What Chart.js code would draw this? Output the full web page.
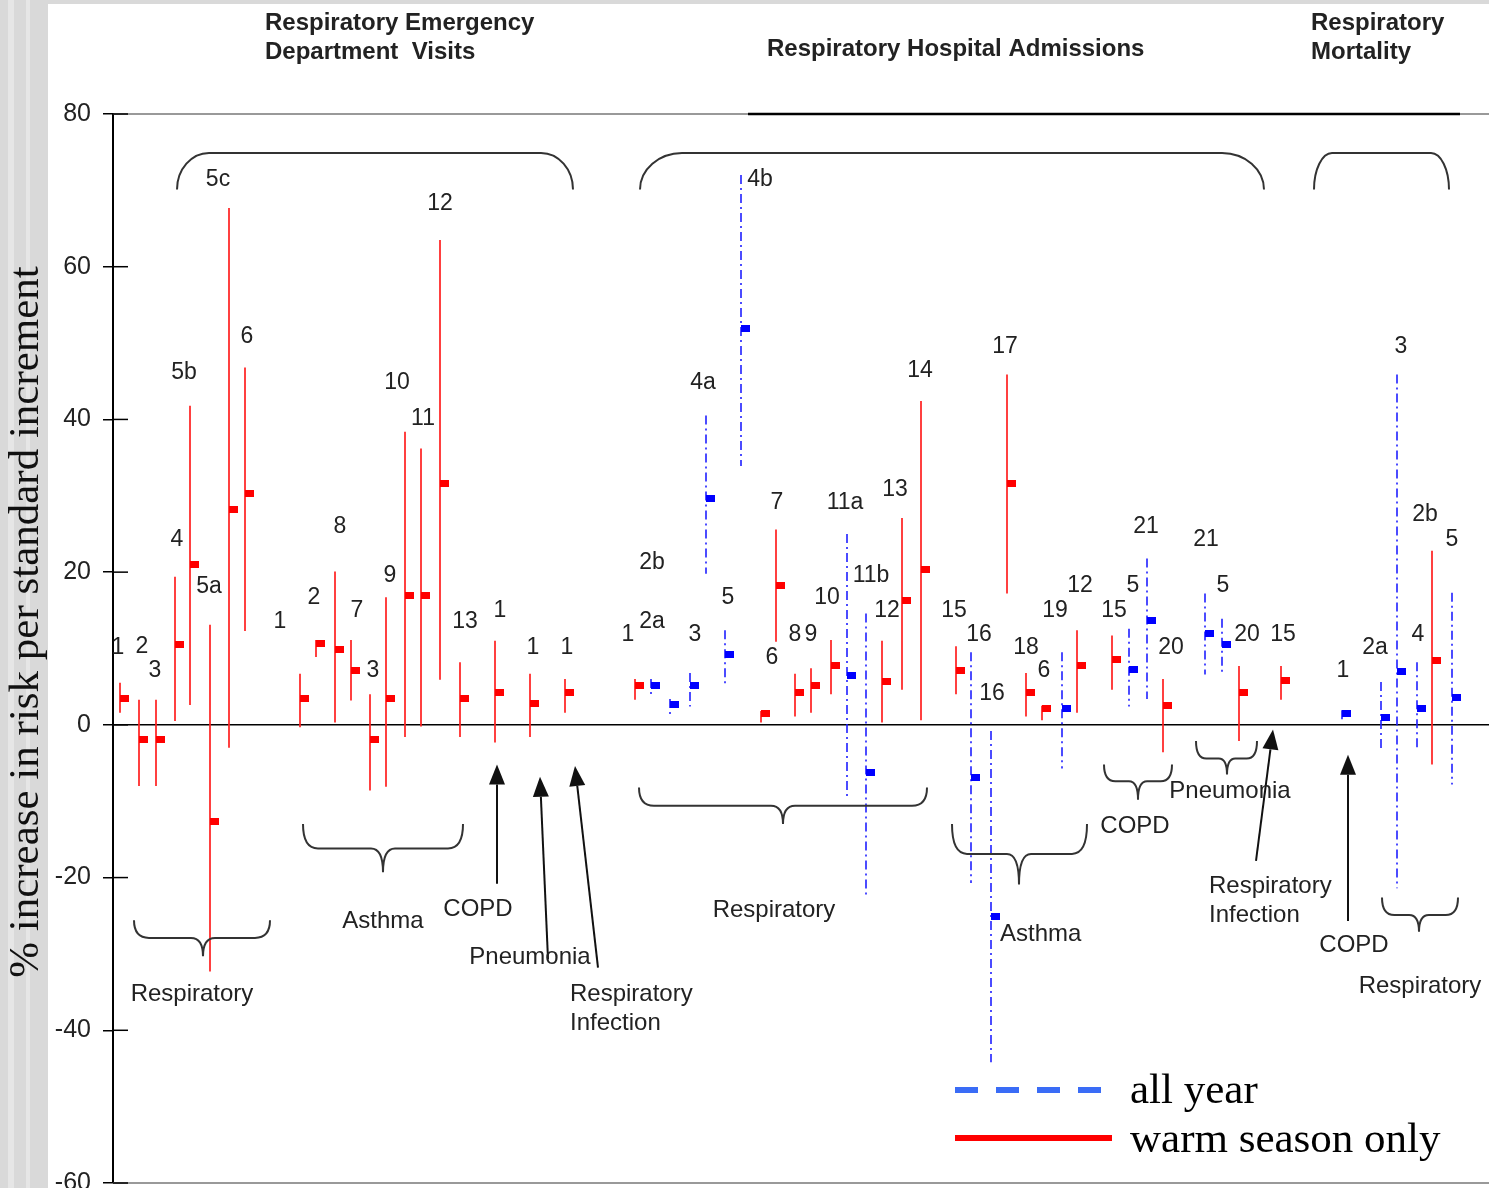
<!DOCTYPE html>
<html>
<head>
<meta charset="utf-8">
<script src="https://cdn.jsdelivr.net/npm/chart.js@4.4.1/dist/chart.umd.min.js"></script>
<style>
html,body{margin:0;padding:0;background:#fff;}
canvas{display:block;}
</style>
</head>
<body>
<canvas id="c" width="1489" height="1188" style="width:1489px;height:1188px"></canvas>
<script>
// ---------------- DATA ----------------
// estimate labels (study numbers)
const estimateIds = [
  '1','2','3','4','5b','5a','5c','6',
  '1','2','8','7','3','9','10','11','12','13',
  '1','1','1',
  '1','2a','2b','3','4a','5','4b','6','7','8','9','10','11a','11b','12','13','14',
  '15','16','16','17','18','6','19','12',
  '15','5','21','20',
  '21','5','20',
  '15',
  '1',
  '2a','3','4','2b','5'
];
// position of each estimate along the (unlabelled) horizontal axis
const positions = [
  0.7,2.6,4.3,6.2,7.7,9.7,11.6,13.2,
  18.7,20.3,22.2,23.8,25.7,27.3,29.2,30.8,32.7,34.7,
  38.2,41.7,45.2,
  52.2,53.8,55.7,57.7,59.3,61.2,62.8,64.8,66.3,68.2,69.8,71.8,73.4,75.3,76.9,78.9,80.8,
  84.3,85.8,87.8,89.4,91.3,92.9,94.9,96.4,
  99.9,101.6,103.4,105.0,
  109.2,110.9,112.6,
  116.8,
  122.9,
  126.8,128.4,130.4,131.9,133.9
];
// % increase in risk: central estimate, lower and upper confidence limits
const centers = [
  3.5,-1.9,-1.9,10.5,21.0,-12.6,28.2,30.3,
  3.5,10.6,9.9,7.1,-1.9,3.5,16.9,16.9,31.6,3.5,
  4.2,2.8,4.2,
  5.1,5.1,2.7,5.1,29.6,9.2,51.9,1.5,18.2,4.2,5.1,7.8,6.4,-6.2,5.7,16.3,20.3,
  7.1,-6.9,-25.1,31.6,4.3,2.1,2.1,7.8,
  8.5,7.3,13.7,2.6,
  12.0,10.5,4.2,
  5.8,
  1.5,
  0.9,7.0,2.1,8.4,3.6
];
const lowers = [
  1.6,-8.0,-8.0,0.5,2.6,-32.3,-3.0,12.3,
  -0.3,8.9,0.3,3.2,-8.6,-8.1,-1.6,-0.2,5.9,-1.6,
  -2.3,-1.6,1.6,
  3.3,3.9,1.3,2.4,19.8,5.4,33.9,0.3,10.9,1.1,1.6,4.0,-9.8,-22.3,0.3,4.6,0.6,
  4.0,-20.7,-44.2,17.2,1.1,0.6,-5.7,1.6,
  4.6,2.4,3.4,-3.6,
  6.6,6.6,-2.1,
  3.3,
  0.6,
  -3.3,-21.4,-3.2,-5.2,-7.8
];
const uppers = [
  5.5,3.3,3.3,19.4,41.8,13.1,67.7,46.8,
  6.7,11.1,20.1,11.1,4.0,16.7,38.4,36.2,63.5,8.2,
  11.0,6.7,6.0,
  6.0,6.0,3.4,6.8,40.5,12.4,72.0,1.8,25.6,6.7,7.4,11.1,25.0,14.6,11.0,27.1,42.4,
  10.3,9.5,-0.8,45.9,6.8,2.5,9.5,12.4,
  11.7,12.6,21.8,6.0,
  17.2,13.9,7.7,
  7.7,
  1.9,
  5.6,45.9,8.2,22.8,17.3
];
// 'warm' = warm season only, 'all' = all year
const seasons = [
  'warm','warm','warm','warm','warm','warm','warm','warm',
  'warm','warm','warm','warm','warm','warm','warm','warm','warm','warm',
  'warm','warm','warm',
  'warm','all','all','all','all','all','all','warm','warm','warm','warm','warm','all','all','warm','warm','warm',
  'warm','all','all','warm','warm','warm','all','warm',
  'warm','all','all','warm',
  'all','all','warm',
  'warm',
  'all',
  'all','all','all','warm','all'
];
// where each study number is written (axis units / % units)
const labelX = [
  0.5,2.9,4.2,6.4,7.1,9.6,10.5,13.4,
  16.7,20.1,22.7,24.4,26.0,27.7,28.4,31.0,32.7,35.2,
  38.7,42.0,45.4,
  51.5,53.9,53.9,58.2,59.0,61.5,64.7,65.9,66.4,68.2,69.8,71.4,73.2,75.8,77.4,78.2,80.7,
  84.1,86.6,87.9,89.2,91.3,93.1,94.2,96.7,
  100.1,102.0,103.3,105.8,
  109.3,111.0,113.4,
  117.0,
  123.0,
  126.2,128.8,130.5,131.2,133.9
];
const labelY = [
  10.1,10.3,7.1,24.3,46.1,18.1,71.4,50.9,
  13.5,16.7,26.0,15.0,7.1,19.5,44.8,40.1,68.3,13.5,
  15.0,10.1,10.1,
  11.8,13.5,21.2,11.8,44.8,16.7,71.4,8.8,29.1,11.8,11.8,16.7,29.1,19.5,15.0,30.8,46.4,
  15.0,11.8,4.1,49.5,10.1,7.1,15.0,18.2,
  15.0,18.2,26.0,10.1,
  24.3,18.2,11.8,
  11.8,
  7.1,
  10.1,49.5,11.8,27.5,24.3
];
const yTicks = [-60,-40,-20,0,20,40,60,80];
const yTitle = '% increase in risk per standard increment';
const seriesNames = { all: 'all year', warm: 'warm season only' };

// ---------------- ANNOTATIONS ----------------
const headers = [
  { lines: ['Respiratory Emergency', 'Department  Visits'], x: 15.2 },
  { lines: ['Respiratory Hospital Admissions'], x: 65.4, single: true },
  { lines: ['Respiratory', 'Mortality'], x: 119.8 }
];
const topBraces = [ // xLeft, xRight, yTop, yEnd, corner
  [6.4, 46.0, 74.9, 70.1, 32],
  [52.7, 115.1, 74.9, 70.1, 42],
  [120.1, 133.6, 74.9, 70.1, 18]
];
const bottomBraces = [ // xLeft, xTip, xRight, yTop, yBar, yTip
  [2.1, 9.0, 15.7, -25.6, -27.9, -30.3],
  [19.0, 27.0, 35.0, -13.0, -16.2, -19.3],
  [52.6, 67.0, 81.4, -8.2, -10.6, -13.0],
  [83.9, 90.6, 97.4, -13.0, -16.9, -20.9],
  [99.1, 102.5, 105.9, -5.2, -7.4, -9.8],
  [108.3, 111.4, 114.4, -2.1, -4.4, -6.5],
  [126.9, 130.6, 134.5, -22.6, -24.9, -27.1]
];
const arrows = [ // from x,y  to x,y
  [38.4, -20.8, 38.4, -5.2],
  [43.5, -30.7, 42.7, -6.8],
  [48.5, -31.8, 46.2, -5.4],
  [114.3, -17.8, 116.0, -0.6],
  [123.5, -25.7, 123.5, -3.9]
];
const groupLabels = [ // text, x, y, align
  ['Respiratory', 7.9, -35.3, 'center'],
  ['Asthma', 27.0, -25.7, 'center'],
  ['COPD', 36.5, -24.1, 'center'],
  ['Pneumonia', 41.7, -30.4, 'center'],
  ['Respiratory', 45.7, -35.3, 'left'],
  ['Infection', 45.7, -39.1, 'left'],
  ['Respiratory', 66.1, -24.3, 'center'],
  ['Asthma', 88.7, -27.5, 'left'],
  ['COPD', 102.2, -13.3, 'center'],
  ['Pneumonia', 111.7, -8.7, 'center'],
  ['Respiratory', 109.6, -21.1, 'left'],
  ['Infection', 109.6, -24.9, 'left'],
  ['COPD', 124.1, -28.9, 'center'],
  ['Respiratory', 130.7, -34.3, 'center']
];

// ---------------- CHART ----------------
const SANS = "'Liberation Sans', Arial, sans-serif";
const SERIF = "'Liberation Serif', 'Times New Roman', serif";
const RED = '#ff0000', BLUE = '#0000ff';

function boxStyle(color) {
  const c = document.createElement('canvas');
  c.width = 20; c.height = 7;
  const g = c.getContext('2d');
  g.fillStyle = color;
  g.fillRect(10, 0, 9, 7);
  return c;
}

const warmPts = [], allPts = [];
estimateIds.forEach((id, i) => {
  (seasons[i] === 'warm' ? warmPts : allPts).push({ x: positions[i], y: centers[i] });
});

const artPlugin = {
  id: 'art',
  beforeDraw(chart) {
    const ctx = chart.ctx, w = chart.width, h = chart.height;
    ctx.save();
    ctx.fillStyle = '#ffffff';
    ctx.fillRect(0, 0, w, h);
    ctx.fillStyle = '#d9d9d9';
    ctx.fillRect(0, 0, 48, h);
    ctx.fillRect(0, 0, w, 4);
    ctx.fillStyle = '#e6e6e6';
    ctx.fillRect(8, 0, 6, h);
    ctx.fillRect(26, 0, 4, h);
    ctx.restore();
  },
  beforeDatasetsDraw(chart) {
    const ctx = chart.ctx, xs = chart.scales.x, ys = chart.scales.y, a = chart.chartArea;
    const X = v => xs.getPixelForValue(v), Y = v => ys.getPixelForValue(v);
    const right = chart.width;
    ctx.save();
    // frame lines
    ctx.strokeStyle = '#777'; ctx.lineWidth = 1.5;
    ctx.beginPath(); ctx.moveTo(a.left, Y(80)); ctx.lineTo(right, Y(80)); ctx.stroke();
    ctx.strokeStyle = '#000'; ctx.lineWidth = 2.5;
    ctx.beginPath(); ctx.moveTo(X(63.5), Y(80)); ctx.lineTo(X(134.7), Y(80)); ctx.stroke();
    ctx.strokeStyle = '#999'; ctx.lineWidth = 2;
    ctx.beginPath(); ctx.moveTo(a.left, Y(-60)); ctx.lineTo(right, Y(-60)); ctx.stroke();
    ctx.strokeStyle = '#000'; ctx.lineWidth = 1.5;
    ctx.beginPath(); ctx.moveTo(a.left, Y(0)); ctx.lineTo(right, Y(0)); ctx.stroke();
    // inner tick stubs
    ctx.lineWidth = 1.5;
    yTicks.forEach(t => {
      ctx.beginPath(); ctx.moveTo(a.left, Y(t)); ctx.lineTo(a.left + 15, Y(t)); ctx.stroke();
    });
    // confidence intervals
    estimateIds.forEach((id, i) => {
      const x = Math.round(X(positions[i]));
      ctx.beginPath();
      if (seasons[i] === 'warm') {
        ctx.strokeStyle = 'rgba(255,30,30,0.85)'; ctx.setLineDash([]);
      } else {
        ctx.strokeStyle = 'rgba(30,30,255,0.8)'; ctx.setLineDash([9, 4, 2, 4]);
      }
      ctx.lineWidth = 2;
      ctx.moveTo(x, Y(uppers[i]));
      ctx.lineTo(x, Y(lowers[i]));
      ctx.stroke();
    });
    ctx.setLineDash([]);
    ctx.restore();
  },
  afterDatasetsDraw(chart) {
    const ctx = chart.ctx, xs = chart.scales.x, ys = chart.scales.y, a = chart.chartArea;
    const X = v => xs.getPixelForValue(v), Y = v => ys.getPixelForValue(v);
    ctx.save();
    // study numbers
    ctx.fillStyle = '#222';
    ctx.font = '23px ' + SANS;
    ctx.textAlign = 'center'; ctx.textBaseline = 'middle';
    estimateIds.forEach((id, i) => ctx.fillText(id, X(labelX[i]), Y(labelY[i])));
    // headers
    ctx.font = 'bold 24px ' + SANS;
    ctx.textAlign = 'left';
    headers.forEach(hd => {
      if (hd.single) ctx.fillText(hd.lines[0], X(hd.x), a.top - 65);
      else hd.lines.forEach((t, k) => ctx.fillText(t, X(hd.x), a.top - 91 + 29 * k));
    });
    // braces
    ctx.strokeStyle = '#333'; ctx.lineWidth = 2;
    topBraces.forEach(b => {
      const xl = X(b[0]), xr = X(b[1]), yt = Y(b[2]), ye = Y(b[3]), r = b[4], hh = ye - yt;
      ctx.beginPath();
      ctx.moveTo(xl, ye);
      ctx.bezierCurveTo(xl, ye - hh * 0.55, xl + r * 0.45, yt, xl + r, yt);
      ctx.lineTo(xr - r, yt);
      ctx.bezierCurveTo(xr - r * 0.45, yt, xr, ye - hh * 0.55, xr, ye);
      ctx.stroke();
    });
    bottomBraces.forEach(b => {
      const xl = X(b[0]), xm = X(b[1]), xr = X(b[2]), yt = Y(b[3]), yb = Y(b[4]), yp = Y(b[5]);
      const r = Math.min(15, (xm - xl) / 3);
      ctx.beginPath();
      ctx.moveTo(xl, yt);
      ctx.quadraticCurveTo(xl, yb, xl + r, yb);
      ctx.lineTo(xm - r * 0.8, yb);
      ctx.quadraticCurveTo(xm, yb, xm, yp);
      ctx.moveTo(xm, yp);
      ctx.quadraticCurveTo(xm, yb, xm + r * 0.8, yb);
      ctx.lineTo(xr - r, yb);
      ctx.quadraticCurveTo(xr, yb, xr, yt);
      ctx.stroke();
    });
    // arrows
    ctx.strokeStyle = '#111'; ctx.fillStyle = '#111';
    arrows.forEach(ar => {
      const x1 = X(ar[0]), y1 = Y(ar[1]), x2 = X(ar[2]), y2 = Y(ar[3]);
      const dx = x2 - x1, dy = y2 - y1, L = Math.hypot(dx, dy), ux = dx / L, uy = dy / L;
      const bx = x2 - ux * 20, by = y2 - uy * 20;
      ctx.lineWidth = 2;
      ctx.beginPath(); ctx.moveTo(x1, y1); ctx.lineTo(bx, by); ctx.stroke();
      ctx.beginPath();
      ctx.moveTo(x2, y2);
      ctx.lineTo(bx - uy * 8, by + ux * 8);
      ctx.lineTo(bx + uy * 8, by - ux * 8);
      ctx.closePath(); ctx.fill();
    });
    // group labels
    ctx.fillStyle = '#222';
    ctx.font = '24px ' + SANS;
    ctx.textBaseline = 'middle';
    groupLabels.forEach(g => { ctx.textAlign = g[3]; ctx.fillText(g[0], X(g[1]), Y(g[2])); });
    // y title
    ctx.save();
    ctx.translate(27, 622);
    ctx.rotate(-Math.PI / 2);
    ctx.fillStyle = '#111';
    ctx.font = '43px ' + SERIF;
    ctx.textAlign = 'center'; ctx.textBaseline = 'middle';
    ctx.fillText(yTitle, 0, 0);
    ctx.restore();
    // legend
    const lx1 = 955, lx2 = 1112;
    ctx.lineWidth = 6;
    ctx.strokeStyle = '#3a6cf6'; ctx.setLineDash([23, 18]);
    ctx.beginPath(); ctx.moveTo(lx1, 1090); ctx.lineTo(lx2, 1090); ctx.stroke();
    ctx.setLineDash([]);
    ctx.strokeStyle = '#ff0000';
    ctx.beginPath(); ctx.moveTo(lx1, 1138); ctx.lineTo(lx2, 1138); ctx.stroke();
    ctx.fillStyle = '#000';
    ctx.font = '43px ' + SERIF;
    ctx.textAlign = 'left'; ctx.textBaseline = 'middle';
    ctx.fillText(seriesNames.all, 1130, 1092);
    ctx.fillText(seriesNames.warm, 1130, 1141);
    ctx.restore();
  }
};

new Chart(document.getElementById('c'), {
  type: 'scatter',
  data: {
    datasets: [
      { label: seriesNames.warm, data: warmPts, pointStyle: boxStyle(RED), pointRadius: 4, showLine: false },
      { label: seriesNames.all, data: allPts, pointStyle: boxStyle(BLUE), pointRadius: 4, showLine: false }
    ]
  },
  options: {
    responsive: false,
    animation: false,
    devicePixelRatio: 1,
    events: [],
    layout: { padding: { top: 114, bottom: 4, left: 0, right: 0 } },
    plugins: { legend: { display: false }, tooltip: { enabled: false }, title: { display: false } },
    scales: {
      x: { type: 'linear', min: 0, max: 137.1, display: false },
      y: {
        type: 'linear', min: -60, max: 80,
        afterBuildTicks: s => { s.ticks = yTicks.map(v => ({ value: v })); },
        ticks: { font: { family: SANS, size: 25 }, color: '#222', padding: 12 },
        grid: { drawOnChartArea: false, drawTicks: true, tickLength: 10, color: '#000', lineWidth: 1.5 },
        border: { display: true, color: '#000', width: 2 },
        afterFit: s => { s.width = 113; s.paddingTop = 0; s.paddingBottom = 0; }
      }
    }
  },
  plugins: [artPlugin]
});
</script>
</body>
</html>
